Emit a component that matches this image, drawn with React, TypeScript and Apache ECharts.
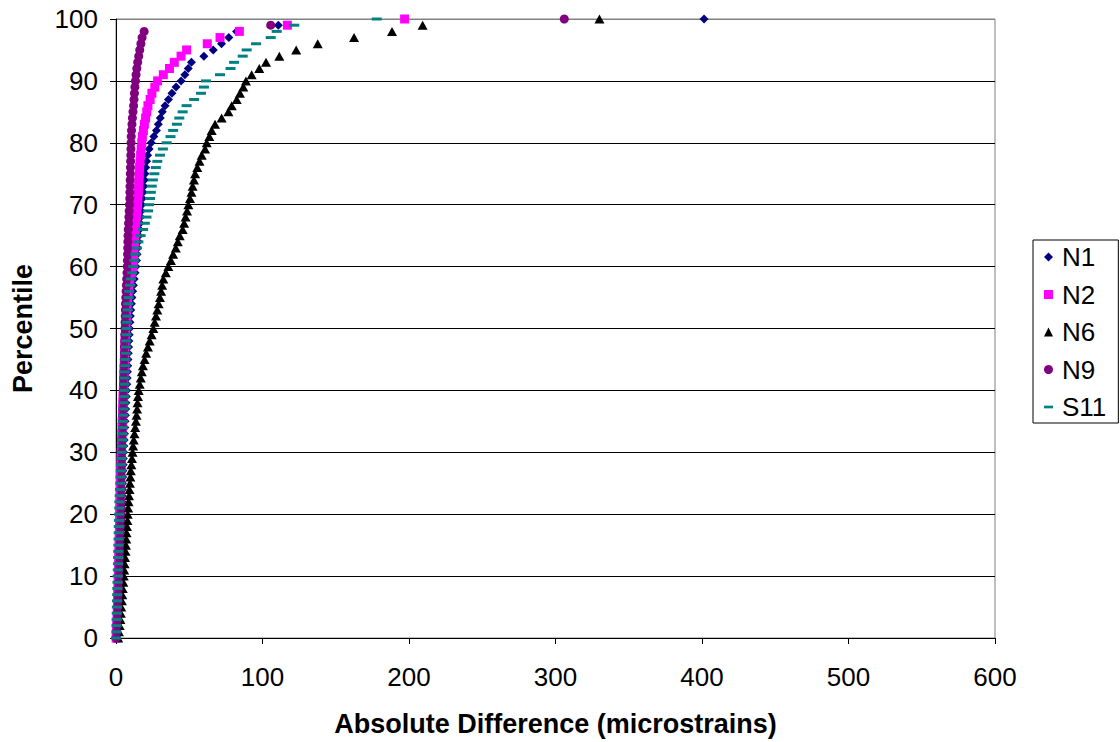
import React, { useEffect, useRef } from "react";
import * as echarts from "echarts";

// Percentile rank of each reading (y axis)
const PERCENTILE = [
  0, 1, 2, 3, 4, 5, 6, 7, 8, 9,
  10, 11, 12, 13, 14, 15, 16, 17, 18, 19,
  20, 21, 22, 23, 24, 25, 26, 27, 28, 29,
  30, 31, 32, 33, 34, 35, 36, 37, 38, 39,
  40, 41, 42, 43, 44, 45, 46, 47, 48, 49,
  50, 51, 52, 53, 54, 55, 56, 57, 58, 59,
  60, 61, 62, 63, 64, 65, 66, 67, 68, 69,
  70, 71, 72, 73, 74, 75, 76, 77, 78, 79,
  80, 81, 82, 83, 84, 85, 86, 87, 88, 89,
  90, 91, 92, 93, 94, 95, 96, 97, 98, 99,
  100,
];

// Absolute difference (microstrains) at each percentile, per gauge
const N1 = [
  0.2, 0.4, 0.7, 0.9, 1.1, 1.3, 1.5, 1.7, 1.9, 2.0,
  2.2, 2.3, 2.5, 2.6, 2.8, 2.9, 3.1, 3.2, 3.4, 3.5,
  3.7, 3.8, 4.0, 4.1, 4.3, 4.4, 4.6, 4.7, 4.9, 5.0,
  5.2, 5.4, 5.6, 5.8, 6.0, 6.2, 6.4, 6.6, 6.8, 7.0,
  7.2, 7.4, 7.6, 7.8, 8.0, 8.2, 8.4, 8.6, 8.8, 9.0,
  9.2, 9.5, 9.8, 10.1, 10.5, 10.9, 11.4, 11.9, 12.4, 13.0,
  13.6, 14.0, 14.4, 14.8, 15.2, 15.6, 16.0, 16.4, 16.8, 17.2,
  17.6, 18.0, 18.5, 19.0, 19.4, 19.8, 20.3, 20.9, 21.6, 22.6,
  24.0, 25.8, 27.6, 28.9, 30.2, 31.6, 33.5, 35.8, 38.2, 41.0,
  44.4, 47.0, 49.3, 51.5, 60.0, 66.4, 72.0, 77.0, 82.3, 110.8,
  401.4,
];

const N2 = [
  0.1, 0.3, 0.5, 0.7, 0.9, 1.0, 1.1, 1.2, 1.4, 1.5,
  1.6, 1.7, 1.8, 1.9, 2.0, 2.1, 2.2, 2.3, 2.4, 2.5,
  2.6, 2.7, 2.8, 2.9, 3.0, 3.1, 3.2, 3.3, 3.4, 3.5,
  3.6, 3.7, 3.8, 4.0, 4.1, 4.2, 4.4, 4.5, 4.7, 4.8,
  5.0, 5.2, 5.3, 5.5, 5.6, 5.8, 5.9, 6.0, 6.2, 6.4,
  6.6, 6.8, 7.0, 7.3, 7.6, 7.9, 8.3, 8.8, 9.4, 10.5,
  11.5, 11.8, 12.0, 12.3, 12.6, 12.9, 13.2, 13.5, 13.9, 14.3,
  14.7, 15.0, 15.3, 15.5, 15.7, 15.9, 16.1, 16.4, 16.8, 17.2,
  17.6, 18.0, 18.7, 19.4, 20.2, 21.0, 21.8, 23.3, 24.5, 26.5,
  28.4, 32.3, 36.5, 39.8, 44.4, 48.2, 62.3, 71.0, 84.2, 117.0,
  197.0,
];

const N6 = [
  1.5, 2.0, 2.5, 3.0, 3.3, 3.6, 4.0, 4.3, 4.6, 5.0,
  5.3, 5.6, 5.9, 6.2, 6.5, 6.8, 7.0, 7.2, 7.5, 7.8,
  8.0, 8.3, 8.6, 8.9, 9.2, 9.5, 9.8, 10.1, 10.5, 10.9,
  11.3, 11.7, 12.1, 12.6, 13.1, 13.6, 14.0, 14.4, 14.7, 15.0,
  15.5, 16.2, 16.9, 17.6, 18.4, 19.5, 20.6, 21.8, 23.0, 24.3,
  25.5, 26.4, 27.3, 28.2, 29.1, 30.0, 30.8, 31.5, 32.3, 34.0,
  35.7, 37.5, 39.0, 40.8, 42.2, 43.5, 45.5, 46.5, 47.5, 48.5,
  49.4, 50.5, 51.5, 52.3, 53.2, 54.0, 55.5, 57.0, 58.5, 60.8,
  61.9, 63.7, 65.3, 67.6, 72.1, 76.7, 79.0, 82.4, 84.6, 86.9,
  88.7, 92.6, 97.8, 102.4, 111.5, 123.0, 137.7, 162.5, 188.4, 209.3,
  330.0,
];

const N9 = [
  0.2, 0.4, 0.6, 0.8, 1.0, 1.1, 1.3, 1.4, 1.6, 1.7,
  1.9, 2.0, 2.1, 2.3, 2.4, 2.5, 2.6, 2.8, 2.9, 3.0,
  3.1, 3.2, 3.3, 3.4, 3.5, 3.6, 3.7, 3.8, 3.9, 4.0,
  4.1, 4.2, 4.3, 4.4, 4.5, 4.6, 4.7, 4.8, 4.9, 5.0,
  5.1, 5.2, 5.3, 5.4, 5.5, 5.6, 5.7, 5.8, 5.9, 6.0,
  6.1, 6.2, 6.3, 6.4, 6.5, 6.7, 6.9, 7.1, 7.3, 7.5,
  7.7, 7.8, 7.9, 8.0, 8.1, 8.2, 8.4, 8.6, 8.8, 9.0,
  9.2, 9.4, 9.5, 9.6, 9.7, 9.8, 9.9, 10.0, 10.1, 10.2,
  10.3, 10.4, 10.6, 10.9, 11.2, 11.6, 12.0, 12.3, 12.6, 12.9,
  13.3, 13.7, 14.2, 14.8, 15.5, 16.2, 17.0, 17.8, 19.2, 105.6,
  306.0,
];

const S11 = [
  0.0, 0.2, 0.3, 0.4, 0.5, 0.6, 0.7, 0.8, 0.9, 1.0,
  1.1, 1.2, 1.3, 1.4, 1.5, 1.6, 1.7, 1.8, 1.9, 2.0,
  2.1, 2.2, 2.3, 2.5, 2.7, 2.9, 3.1, 3.3, 3.5, 3.7,
  3.9, 4.1, 4.3, 4.5, 4.7, 4.8, 5.0, 5.2, 5.3, 5.5,
  5.7, 5.8, 6.0, 6.1, 6.3, 6.4, 6.6, 6.8, 6.9, 7.1,
  7.3, 7.5, 7.7, 8.0, 8.3, 8.7, 9.1, 9.6, 10.2, 11.0,
  11.8, 12.4, 13.1, 14.1, 15.3, 16.8, 18.5, 19.7, 20.8, 21.9,
  22.6, 23.2, 23.8, 24.4, 25.2, 26.2, 27.2, 28.2, 30.0, 32.0,
  34.6, 37.2, 39.0, 41.6, 43.2, 45.5, 48.2, 53.3, 58.0, 60.0,
  61.4, 71.0, 78.2, 80.6, 86.5, 89.2, 95.6, 105.6, 109.7, 121.7,
  178.0,
];

const X_TITLE = "Absolute Difference (microstrains)";
const Y_TITLE = "Percentile";

const FONT = "'Liberation Sans', Arial, Helvetica, sans-serif";
const DASH_ICON = "path://M0 0H10V3H0Z";

const GAUGES = [
  { name: "N1", values: N1, color: "#000080", symbol: "diamond", size: 9 as number | number[] },
  { name: "N2", values: N2, color: "#FF00FF", symbol: "rect", size: 9 as number | number[] },
  { name: "N6", values: N6, color: "#000000", symbol: "triangle", size: [10, 9] as number | number[] },
  { name: "N9", values: N9, color: "#800080", symbol: "circle", size: 9 as number | number[] },
  { name: "S11", values: S11, color: "#008080", symbol: "rect", size: [10, 3] as number | number[] },
];

export default function App() {
  const ref = useRef<HTMLDivElement>(null);

  useEffect(() => {
    if (!ref.current) return;
    document.body.style.margin = "0";
    document.body.style.overflow = "hidden";
    const chart = echarts.init(ref.current, undefined, { renderer: "svg" });

    // horizontal gridlines are black; the top one doubles as the grey plot border
    const gridColors = ["#000", "#000", "#000", "#000", "#000", "#000", "#000", "#000", "#000", "#000", "#808080"];

    chart.setOption({
      animation: false,
      backgroundColor: "#ffffff",
      textStyle: { fontFamily: FONT },
      grid: {
        left: 116,
        right: 125,
        top: 19,
        bottom: 102,
        show: true,
        borderColor: "#808080",
        borderWidth: 1,
        backgroundColor: "transparent",
      },
      legend: {
        orient: "vertical",
        left: 1033,
        top: 240,
        padding: [3, 12, 2, 11],
        itemGap: 9.5,
        itemWidth: 9,
        itemHeight: 9,
        borderColor: "#000",
        borderWidth: 1,
        backgroundColor: "#fff",
        textStyle: { fontFamily: FONT, fontSize: 26, color: "#000", lineHeight: 28, padding: [0, 0, 0, 4] },
        data: GAUGES.map((g) => ({
          name: g.name,
          icon: g.name === "S11" ? DASH_ICON : g.symbol,
        })),
      },
      xAxis: {
        type: "value",
        min: 0,
        max: 600,
        interval: 100,
        name: X_TITLE,
        nameLocation: "middle",
        nameGap: 72,
        nameTextStyle: { fontFamily: FONT, fontSize: 27, fontWeight: "bold", color: "#000" },
        axisLine: { show: true, onZero: false, lineStyle: { color: "#000", width: 1 } },
        axisTick: { show: true, inside: false, length: 6, lineStyle: { color: "#000" } },
        axisLabel: { fontFamily: FONT, fontSize: 26, color: "#000", margin: 26 },
        splitLine: { show: false },
      },
      yAxis: {
        type: "value",
        min: 0,
        max: 100,
        interval: 10,
        name: Y_TITLE,
        nameLocation: "middle",
        nameGap: 80,
        nameTextStyle: { fontFamily: FONT, fontSize: 27, fontWeight: "bold", color: "#000" },
        axisLine: { show: true, onZero: false, lineStyle: { color: "#000", width: 1 } },
        axisTick: { show: true, inside: false, length: 6, lineStyle: { color: "#000" } },
        axisLabel: { fontFamily: FONT, fontSize: 26, color: "#000", margin: 18 },
        splitLine: { show: true, lineStyle: { color: gridColors, width: 1 } },
      },
      series: GAUGES.map((g) => ({
        name: g.name,
        type: "scatter",
        symbol: g.symbol,
        symbolSize: g.size,
        itemStyle: { color: g.color, opacity: 1 },
        emphasis: { disabled: true },
        data: g.values.map((x, i) => [x, PERCENTILE[i]]),
      })),
    });

    return () => chart.dispose();
  }, []);

  return (
    <div
      ref={ref}
      style={{ position: "fixed", left: 0, top: 0, width: 1120, height: 742, background: "#fff" }}
    />
  );
}
